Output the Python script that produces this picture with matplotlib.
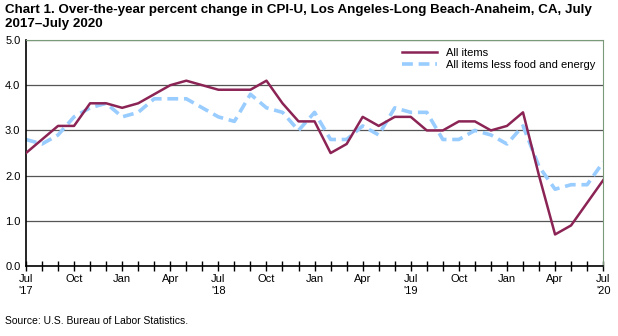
import matplotlib.pyplot as plt
import numpy as np

plt.rcParams['font.family'] = ['Liberation Sans', 'DejaVu Sans']

# Monthly values, July 2017 - July 2020
all_items = [2.5, 2.8, 3.1, 3.1, 3.6, 3.6, 3.5, 3.6, 3.8, 4.0, 4.1, 4.0,
             3.9, 3.9, 3.9, 4.1, 3.6, 3.2, 3.2, 2.5, 2.7, 3.3, 3.1, 3.3,
             3.3, 3.0, 3.0, 3.2, 3.2, 3.0, 3.1, 3.4, 2.0, 0.7, 0.9, 1.4,
             1.9]
core = [2.8, 2.7, 2.9, 3.3, 3.5, 3.6, 3.3, 3.4, 3.7, 3.7, 3.7, 3.5,
        3.3, 3.2, 3.8, 3.5, 3.4, 3.0, 3.4, 2.8, 2.8, 3.1, 2.9, 3.5,
        3.4, 3.4, 2.8, 2.8, 3.0, 2.9, 2.7, 3.1, 2.2, 1.7, 1.8, 1.8,
        2.3]
tick_labels = ["Jul\n'17", 'Oct', 'Jan', 'Apr', "Jul\n'18", 'Oct', 'Jan', 'Apr',
               "Jul\n'19", 'Oct', 'Jan', 'Apr', "Jul\n'20"]

x = np.arange(len(all_items))

fig = plt.figure(figsize=(6.18, 3.36), dpi=100)
ax = fig.add_axes([0.042, 0.208, 0.934, 0.673])

ax.plot(x, all_items, color='#8B2455', lw=1.8, label='All items', zorder=3)
ax.plot(x, core, color='#99CCFF', lw=2.6, ls=(0, (3, 1.6)),
        label='All items less food and energy', zorder=2)

ax.set_xlim(0, len(all_items) - 1)
ax.set_ylim(0, 5)
ax.set_yticks(np.arange(0, 5.1, 1))
ax.set_yticklabels([f'{v:.1f}' for v in np.arange(0, 5.1, 1)], fontsize=8)
ax.tick_params(axis='y', length=0, pad=4)

ax.set_xticks(x, minor=True)
ax.set_xticks(x[::3])
ax.set_xticklabels(tick_labels, fontsize=8, linespacing=1.3)
ax.tick_params(axis='x', which='both', direction='inout', length=7, width=1, pad=2)

ax.grid(axis='y', color='#555555', lw=0.9)
ax.spines['top'].set_color('#7a9a7a')
ax.spines['right'].set_color('#7a9a7a')
ax.spines['left'].set_linewidth(1.2)
ax.spines['bottom'].set_linewidth(1.2)

leg = ax.legend(loc='upper right', frameon=False, fontsize=8,
                handlelength=3.2, borderaxespad=0.3, labelspacing=0.2,
                bbox_to_anchor=(1.0, 1.0))

fig.text(0.008, 0.988, 'Chart 1. Over-the-year percent change in CPI-U, Los Angeles-Long Beach-Anaheim, CA, July\n2017\u2013July 2020',
         fontsize=9.6, fontweight='bold', va='top', ha='left', linespacing=1.2)
fig.text(0.008, 0.03, 'Source: U.S. Bureau of Labor Statistics.', fontsize=7.5, ha='left', va='bottom')

fig.savefig('out.png', dpi=100)
